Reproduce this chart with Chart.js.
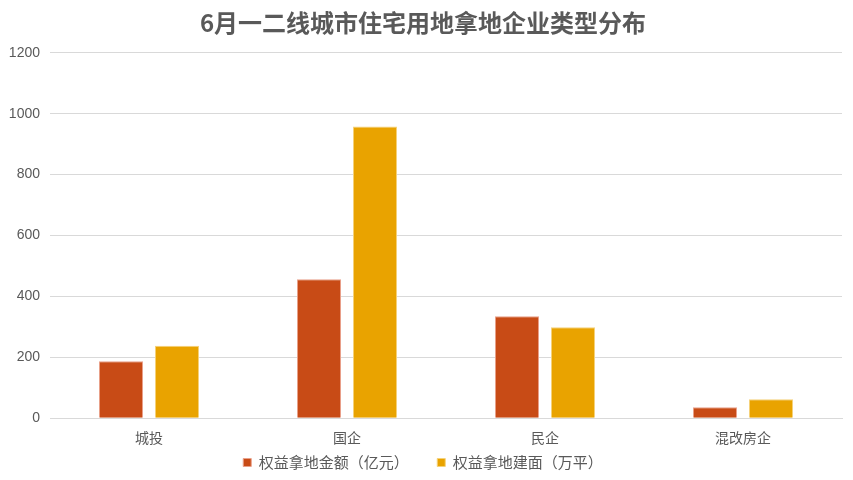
<!DOCTYPE html>
<html>
<head>
<meta charset="utf-8">
<script src="https://cdn.jsdelivr.net/npm/chart.js@4"></script>
<style>
  html, body { margin: 0; padding: 0; background: #fff; }
  #wrap { width: 853px; height: 480px; position: relative; }
</style>
</head>
<body>
<div id="wrap"><canvas id="myChart"></canvas></div>
<script>
// 数据
const categories = ['城投', '国企', '民企', '混改房企'];
const amountValues = [187, 456, 335, 36];   // 权益拿地金额（亿元）
const areaValues = [238, 958, 299, 62];     // 权益拿地建面（万平）
const yTicks = [0, 200, 400, 600, 800, 1000, 1200];

const textColor = '#595959';
const font = "'Noto Sans CJK SC', 'Noto Sans', sans-serif";

const ctx = document.getElementById('myChart');
new Chart(ctx, {
  type: 'bar',
  data: {
    labels: categories,
    datasets: [
      {
        label: '权益拿地金额（亿元）',
        data: amountValues,
        backgroundColor: '#C84B16',
        borderColor: '#E9A08A',
        borderWidth: 1,
        categoryPercentage: 0.566,
        barPercentage: 0.786
      },
      {
        label: '权益拿地建面（万平）',
        data: areaValues,
        backgroundColor: '#E9A300',
        borderColor: '#F5D27A',
        borderWidth: 1,
        categoryPercentage: 0.566,
        barPercentage: 0.786
      }
    ]
  },
  options: {
    responsive: true,
    maintainAspectRatio: false,
    animation: false,
    layout: { padding: { left: 4, right: 11, top: 0, bottom: 0 } },
    scales: {
      y: {
        min: 0,
        max: 1200,
        afterBuildTicks: (axis) => { axis.ticks = yTicks.map(v => ({ value: v })); },
        afterFit: (axis) => { axis.width = 46; },
        grid: { color: '#d9d9d9', drawTicks: false },
        border: { display: false },
        ticks: {
          color: textColor,
          font: { family: "'Liberation Sans', Arial, sans-serif", size: 14 },
          padding: 10,
          callback: (v) => String(v)
        }
      },
      x: {
        grid: { display: false },
        border: { color: '#d9d9d9' },
        ticks: { color: textColor, font: { family: font, size: 14 }, padding: 3 }
      }
    },
    plugins: {
      title: {
        display: true,
        text: '6月一二线城市住宅用地拿地企业类型分布',
        color: textColor,
        font: { family: font, size: 24, weight: 'bold' },
        padding: { top: 8, bottom: 16 }
      },
      legend: {
        position: 'bottom',
        labels: {
          color: textColor,
          font: { family: font, size: 15 },
          boxWidth: 8,
          boxHeight: 8,
          padding: 6,
          // 图例项之间留出更宽的间距
          generateLabels: (chart) => {
            const items = Chart.defaults.plugins.legend.labels.generateLabels(chart);
            items.forEach((it, i) => {
              it.fontColor = textColor;
              if (i < items.length - 1) it.text = it.text + '\u3000\u3000';
            });
            return items;
          }
        }
      },
      tooltip: { enabled: false }
    }
  }
});
</script>
</body>
</html>
